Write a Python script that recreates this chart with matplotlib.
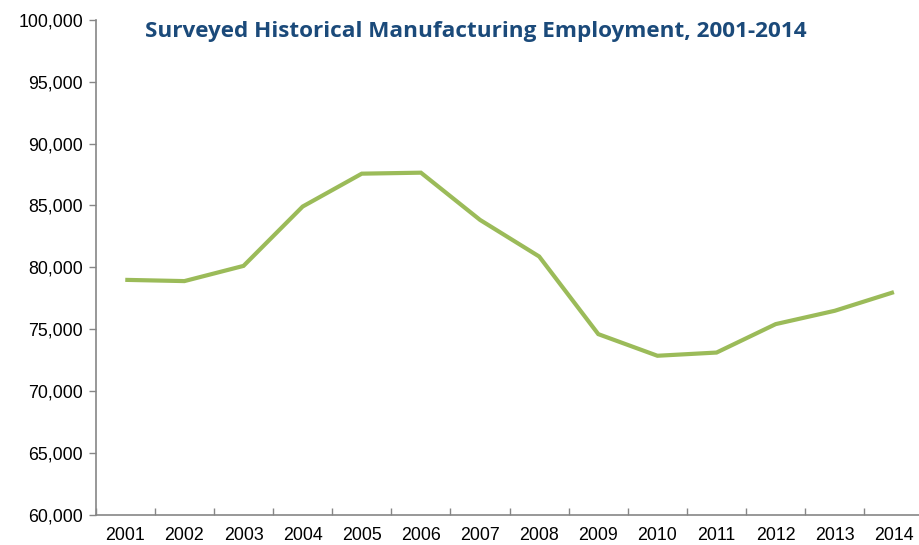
import matplotlib
matplotlib.use("Agg")
import matplotlib.pyplot as plt
from matplotlib.ticker import FuncFormatter, MultipleLocator

years = ["2001", "2002", "2003", "2004", "2005", "2006", "2007",
         "2008", "2009", "2010", "2011", "2012", "2013", "2014"]
employment = [78980, 78880, 80110, 84910, 87570, 87650, 83830,
              80870, 74590, 72840, 73100, 75400, 76480, 77990]
title = "Surveyed Historical Manufacturing Employment, 2001-2014"

fig = plt.figure(figsize=(9.19, 5.45), dpi=100)
ax = fig.add_axes([95.7 / 919, 1 - 514.5 / 545, (923.5 - 95.7) / 919, (514.5 - 20) / 545])

x = list(range(len(years)))
ax.plot(x, employment, color="#9BBB59", linewidth=3.0, solid_joinstyle="miter", solid_capstyle="butt")

ax.set_xlim(-0.5, len(years) - 0.5)
ax.set_ylim(60000, 100000)
ax.yaxis.set_major_locator(MultipleLocator(5000))
ax.yaxis.set_major_formatter(FuncFormatter(lambda v, p: f"{int(v):,}"))

ax.set_xticks(x)
ax.set_xticklabels(years)
ax.set_xticks([i - 0.5 for i in range(len(years) + 1)], minor=True)
ax.tick_params(axis="x", which="major", length=0, pad=9, labelsize=12.8, labelcolor="black")
ax.tick_params(axis="x", which="minor", direction="in", length=5, width=1, color="#868686")
ax.tick_params(axis="y", which="major", direction="out", length=5, width=1, color="#868686",
               labelsize=12.8, pad=4, labelcolor="black")

for s in ["top", "right"]:
    ax.spines[s].set_visible(False)
for s in ["left", "bottom"]:
    ax.spines[s].set_color("#868686")
    ax.spines[s].set_linewidth(1.2)

for lbl in ax.get_xticklabels() + ax.get_yticklabels():
    lbl.set_fontfamily(["Liberation Sans", "DejaVu Sans"])

fig.text(476 / 919, 1 - 31 / 545, title, ha="center", va="center",
         fontsize=16.2, fontweight="bold", color="#1B4A7A",
         fontfamily=["Open Sans", "DejaVu Sans"])

fig.savefig("out.png", dpi=100)
